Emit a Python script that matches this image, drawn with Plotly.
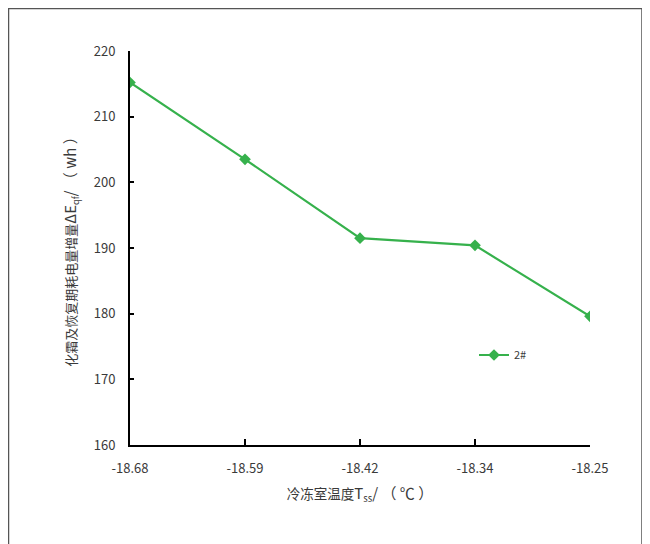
import plotly.graph_objects as go

# Data
x_labels = ["-18.68", "-18.59", "-18.42", "-18.34", "-18.25"]
energy_2 = [215.2, 203.5, 191.5, 190.4, 179.6]
series_name = "2#"

# page body has an 8px margin; work in screen pixels and shift by OFF
OFF = 8
W, H = 650 - OFF, 544 - OFF
L, R, T, B = 130 - OFF, 60, 51 - OFF, 99
pw, ph = W - L - R, H - T - B

def px_x(p):
    return (p - OFF - L) / pw

def px_y(p):
    return (H - B - (p - OFF)) / ph

font_family = "Noto Sans CJK SC, Open Sans, sans-serif"
green = "#36b14c"
txt = "#3a3a3a"

fig = go.Figure()
fig.add_trace(go.Scatter(
    x=x_labels, y=energy_2, name=series_name, mode="lines+markers",
    line=dict(color=green, width=2.2),
    marker=dict(symbol="diamond", size=9, color=green),
))

y_title = ("化霜及恢复期耗电量增量"
           "<span style='font-size:15px'>ΔE</span><sub>qf</sub>"
           "<span style='font-size:15px'>/ （ wh ）</span>")
x_title = ("冷冻室温度<span style='font-size:15px'>T</span><sub>ss</sub>"
           "<span style='font-size:15px'>/ （ ℃ ）</span>")

fig.update_layout(
    width=W, height=H,
    margin=dict(l=L, r=R, t=T, b=B),
    paper_bgcolor="white", plot_bgcolor="white",
    font=dict(family=font_family, size=12, color=txt),
    showlegend=True,
    legend=dict(x=px_x(474), y=px_y(355), xanchor="left", yanchor="middle",
                bgcolor="rgba(0,0,0,0)", font=dict(size=11, color=txt)),
    xaxis=dict(
        type="category", range=[0, 4], showgrid=False, zeroline=False,
        showline=True, linecolor="black", linewidth=2,
        ticks="inside", ticklen=6, tickwidth=1.5, tickcolor="black",
        ticklabelstandoff=10,
        tickfont=dict(size=13, color=txt),
        title=dict(text=x_title, standoff=14,
                   font=dict(size=13.5, color=txt)),
    ),
    yaxis=dict(
        range=[160, 220], dtick=10, showgrid=False, zeroline=False,
        showline=True, linecolor="black", linewidth=2,
        ticks="inside", ticklen=4, tickwidth=1.5, tickcolor="black",
        ticklabelstandoff=10,
        tickfont=dict(size=13, color=txt),
        title=dict(text=y_title, standoff=14,
                   font=dict(size=13, color=txt)),
    ),
    shapes=[dict(type="rect", xref="paper", yref="paper",
                 x0=px_x(8.5), x1=px_x(642), y0=px_y(580), y1=px_y(8.5),
                 line=dict(color="#555555", width=1.5), layer="below")],
)

fig.write_html("out.html")
